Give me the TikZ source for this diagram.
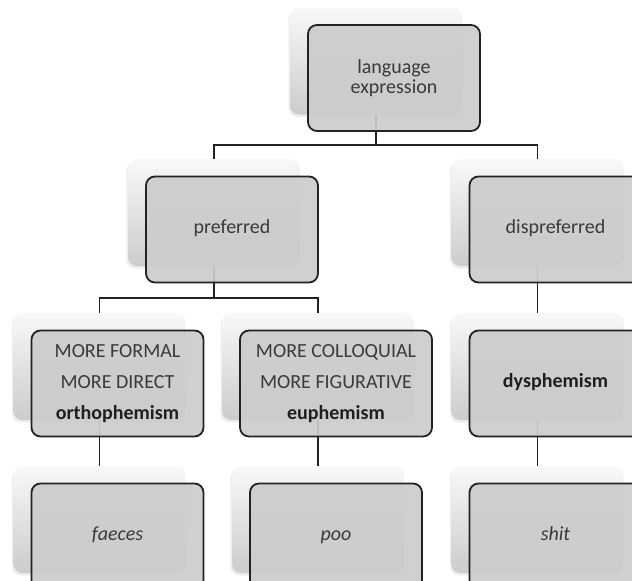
\documentclass[tikz,border=0pt]{standalone}
\usepackage{fontspec}
\setmainfont{Carlito}
\usetikzlibrary{shadows}
\definecolor{txtgray}{HTML}{3A3A3A}
\definecolor{linegray}{HTML}{222222}

\begin{document}
\begin{tikzpicture}[x=1pt, y=-1pt,
		card/.style={rectangle, rounded corners=9pt, minimum width=172pt, minimum height=107pt, inner sep=0pt,
			top color=gray!5, bottom color=gray!40, draw=none,
			drop shadow={opacity=0.14, shadow xshift=-1.5pt, shadow yshift=-2.5pt}},
		box/.style={rectangle, rounded corners=9pt, minimum width=172pt, minimum height=106pt, inner sep=0pt,
			draw=linegray, line width=1.8pt, fill=black!20, fill opacity=0.92, text opacity=1,
			align=center, text=txtgray, font=\fontsize{20}{20}\selectfont},
		link/.style={draw=linegray, line width=1.8pt}]
				\clip (0,0) rectangle (632,581);
				% back cards
				\node[card] (lang)at(376, 61) {};
				\node[card] (pref)at(214, 212.5) {};
				\node[card] (dispref)at(537.5, 212.5) {};
				\node[card] (ortho)at(99.5, 366.5) {};
				\node[card, minimum width=192pt] (euph)at(318, 366.5) {};
				\node[card] (dysph)at(537.5, 366.5) {};
				\node[card] (faeces)at(99.5, 519.5) {};
				\node[card] (poo)at(318, 519.5) {};
				\node[card] (shit)at(537.5, 519.5) {};
				% connectors
				\draw[link] (lang.south) -- ++(0,30.5) -| (pref.north);
				\draw[link] (lang.south) -- ++(0,30.5) -| (dispref.north);
				\draw[link] (pref.south) -- ++(0,31.5) -| (ortho.north);
				\draw[link] (pref.south) -- ++(0,31.5) -| (euph.north);
				\draw[link] (dispref.south) -- (dysph.north);
				\draw[link] (ortho.south) -- (faeces.north);
				\draw[link] (euph.south) -- (poo.north);
				\draw[link] (dysph.south) -- (shit.north);
				% front boxes
				\node[box] (lang2)at([shift={(18,17)}]lang) {language\\expression};
				\node[box] (pref2)at([shift={(18,17)}]pref) {\strut preferred};
				\node[box] (dispref2)at([shift={(18,17)}]dispref) {\strut dispreferred};
				\node[box] (ortho2)at([shift={(18,17)}]ortho) {MORE FORMAL\\[11pt]MORE DIRECT\\[11pt]\textcolor{black!88}{\textbf{orthophemism}}};
				\node[box, minimum width=192pt] (euph2)at([shift={(18,17)}]euph) {MORE COLLOQUIAL\\[11pt]MORE FIGURATIVE\\[11pt]\textcolor{black!88}{\textbf{euphemism}}};
				\node[box] (dysph2)at([shift={(18,17)}]dysph) {\strut\textcolor{black!88}{\textbf{dysphemism}}};
				\node[box] (faeces2)at([shift={(18,17)}]faeces) {\strut\textit{faeces}};
				\node[box] (poo2)at([shift={(18,17)}]poo) {\strut\textit{poo}};
				\node[box] (shit2)at([shift={(18,17)}]shit) {\strut\textit{shit}};
			\end{tikzpicture}
\end{document}
